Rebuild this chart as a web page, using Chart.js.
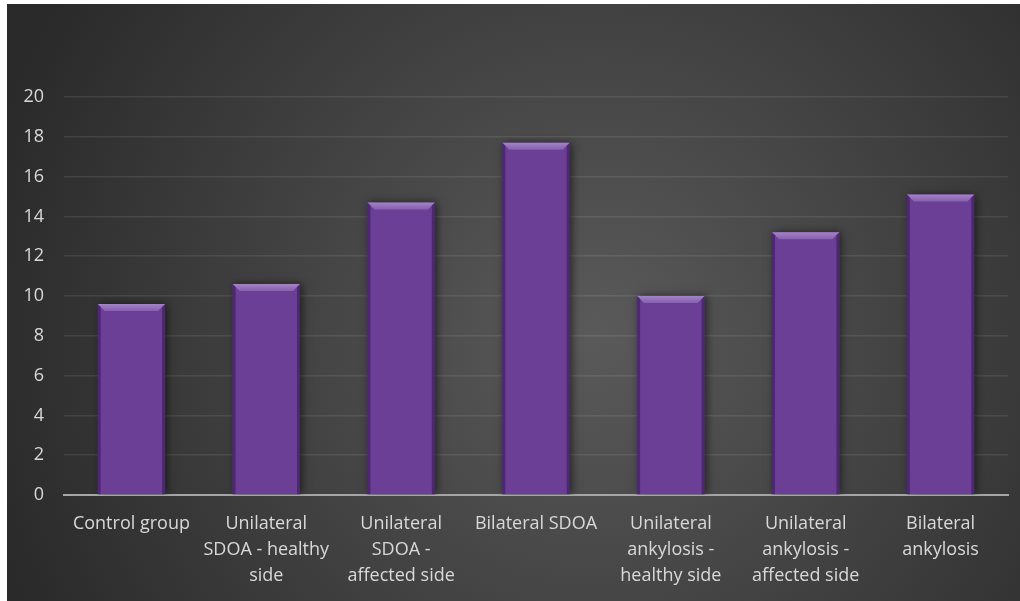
<!DOCTYPE html>
<html>
<head>
<meta charset="utf-8">
<script src="https://cdn.jsdelivr.net/npm/chart.js@4.4.1/dist/chart.umd.min.js"></script>
<style>
  html, body { margin: 0; padding: 0; background: #ffffff; }
  #wrap { position: absolute; left: 7px; top: 4px; width: 1013px; height: 597px; }
</style>
</head>
<body>
<div id="wrap"><canvas id="chart" width="1013" height="597"></canvas></div>
<script>
const categories = [
    'Control group',
    ['Unilateral', 'SDOA - healthy', 'side'],
    ['Unilateral', 'SDOA -', 'affected side'],
    'Bilateral SDOA',
    ['Unilateral', 'ankylosis -', 'healthy side'],
    ['Unilateral', 'ankylosis -', 'affected side'],
    ['Bilateral', 'ankylosis']
];
const values = [9.6, 10.6, 14.7, 17.7, 10.0, 13.2, 15.1];
const yTicks = [0, 2, 4, 6, 8, 10, 12, 14, 16, 18, 20];

const FONT = '"Open Sans", sans-serif';
const TEXT_COLOR = '#d9d9d9';
const BAR_COLOR = '#6b3f96';

// dark radial backdrop behind everything
const backdrop = {
    id: 'backdrop',
    beforeDraw(chart) {
        const { ctx, width, height } = chart;
        const g = ctx.createRadialGradient(width * 0.58, height * 0.55, 0, width * 0.58, height * 0.55, width * 0.62);
        g.addColorStop(0, '#5a5a5a');
        g.addColorStop(1, '#2a2a2a');
        ctx.save();
        ctx.fillStyle = g;
        ctx.fillRect(0, 0, width, height);
        ctx.restore();
    }
};

// soft shadow under bars
const barShadow = {
    id: 'barShadow',
    beforeDatasetsDraw(chart) {
        const ctx = chart.ctx;
        ctx.save();
        ctx.shadowColor = 'rgba(0, 0, 0, 0.55)';
        ctx.shadowBlur = 8;
        ctx.shadowOffsetX = 2;
        ctx.shadowOffsetY = 0;
    },
    afterDatasetsDraw(chart) {
        chart.ctx.restore();
    }
};

// bevel: light top chamfer, darker side edges
const bevel = {
    id: 'bevel',
    afterDatasetsDraw(chart) {
        const ctx = chart.ctx;
        const meta = chart.getDatasetMeta(0);
        ctx.save();
        ctx.shadowColor = 'transparent';
        meta.data.forEach((bar) => {
            const left = bar.x - bar.width / 2;
            const right = bar.x + bar.width / 2;
            const top = bar.y;
            const bottom = bar.base;
            const b = 7;

            const g = ctx.createLinearGradient(0, top, 0, top + b);
            g.addColorStop(0, '#a384c6');
            g.addColorStop(1, '#8560ad');
            ctx.fillStyle = g;
            ctx.beginPath();
            ctx.moveTo(left, top);
            ctx.lineTo(right, top);
            ctx.lineTo(right - b, top + b);
            ctx.lineTo(left + b, top + b);
            ctx.closePath();
            ctx.fill();

            ctx.fillStyle = 'rgba(40, 10, 70, 0.45)';
            ctx.beginPath();
            ctx.moveTo(left, top);
            ctx.lineTo(left + 3, top + 3);
            ctx.lineTo(left + 3, bottom);
            ctx.lineTo(left, bottom);
            ctx.closePath();
            ctx.fill();
            ctx.beginPath();
            ctx.moveTo(right, top);
            ctx.lineTo(right - 3, top + 3);
            ctx.lineTo(right - 3, bottom);
            ctx.lineTo(right, bottom);
            ctx.closePath();
            ctx.fill();
        });
        ctx.restore();
    }
};

new Chart(document.getElementById('chart'), {
    type: 'bar',
    data: {
        labels: categories,
        datasets: [{
            data: values,
            backgroundColor: BAR_COLOR,
            borderWidth: 0,
            categoryPercentage: 1,
            barPercentage: 0.5
        }]
    },
    options: {
        responsive: false,
        animation: false,
        layout: { padding: { top: 93, right: 12, bottom: 0, left: 0 } },
        plugins: {
            legend: { display: false },
            tooltip: { enabled: false }
        },
        scales: {
            y: {
                min: 0,
                max: 20,
                afterBuildTicks: (scale) => {
                    scale.ticks = yTicks.map((v) => ({ value: v }));
                },
                afterFit: (scale) => { scale.width = 57; },
                ticks: {
                    color: TEXT_COLOR,
                    padding: 20,
                    font: { family: FONT, size: 18 }
                },
                grid: {
                    color: (c) => c.tick.value === 0 ? 'rgba(0,0,0,0)' : 'rgba(255, 255, 255, 0.09)',
                    lineWidth: 1.5,
                    drawTicks: false
                },
                border: { display: false }
            },
            x: {
                afterFit: (scale) => { scale.height = 106; },
                ticks: {
                    color: TEXT_COLOR,
                    padding: 16,
                    maxRotation: 0,
                    autoSkip: false,
                    font: { family: FONT, size: 18, lineHeight: 1.45 }
                },
                grid: { display: false, drawTicks: false },
                border: { display: true, color: '#a6a6a6', width: 2 }
            }
        }
    },
    plugins: [backdrop, barShadow, bevel]
});
</script>
</body>
</html>
